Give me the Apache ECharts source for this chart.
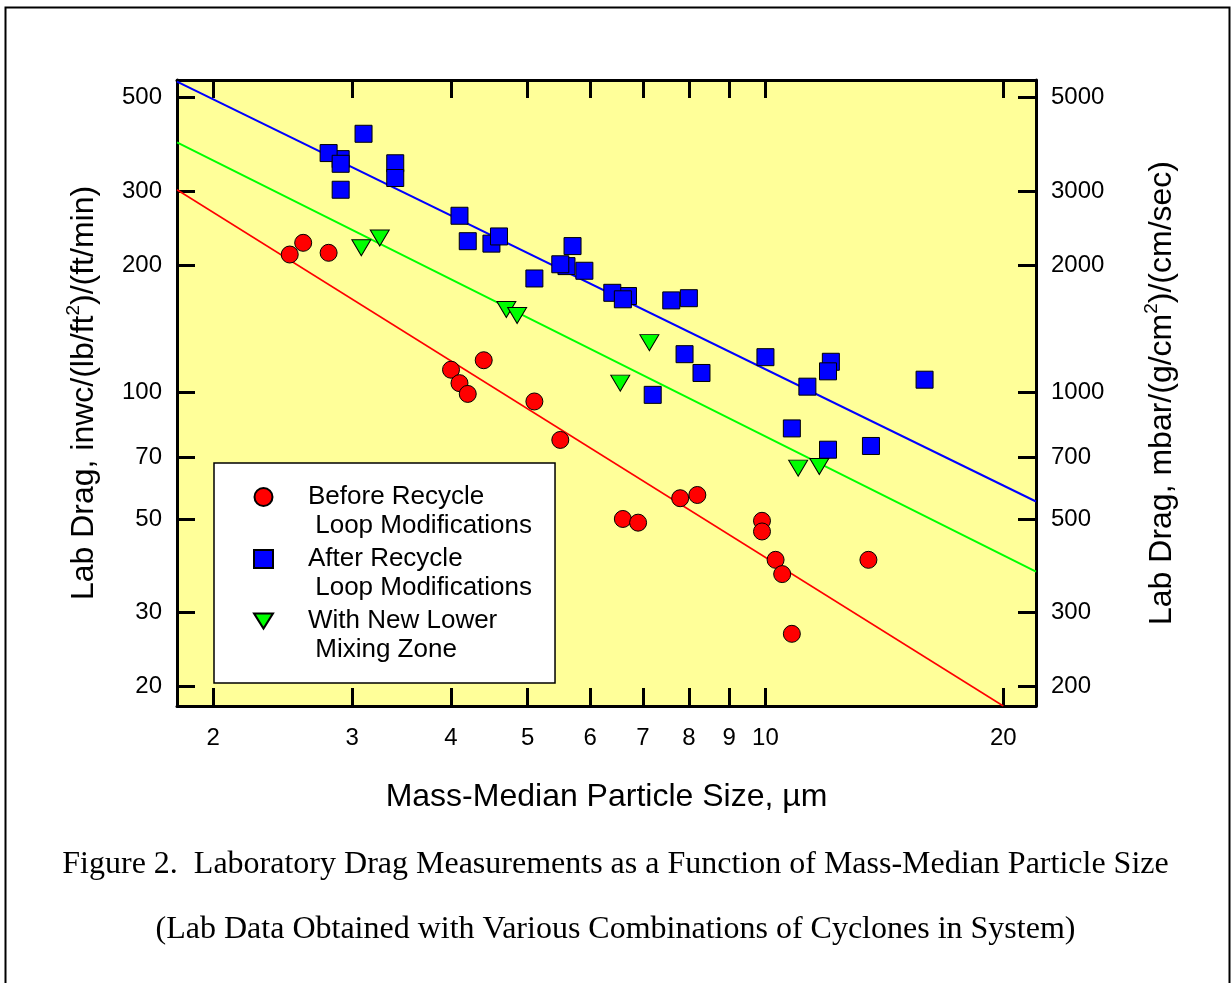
<!DOCTYPE html>
<html>
<head>
<meta charset="utf-8">
<title>Laboratory Drag vs Particle Size</title>
<script src="https://cdn.jsdelivr.net/npm/echarts@6/dist/echarts.min.js"></script>
<style>
    html, body { margin: 0; padding: 0; background: #fff; }
    #chart { width: 1231px; height: 983px; }
</style>
</head>
<body>
<div id="chart"></div>
<script>
// 数据：粒径(µm) / 阻力 inwc/(lb/ft2)/(ft/min)
var beforeRecycle = [
    [2.5, 212], [2.6, 226], [2.8, 214], [4.0, 113], [4.1, 105], [4.2, 99], [4.4, 119],
    [5.1, 95], [5.5, 77], [6.6, 50], [6.9, 49], [7.8, 56], [8.2, 57], [9.9, 49.5],
    [9.9, 46.7], [10.3, 40], [10.5, 37], [10.8, 26.7], [13.5, 40]
];
var afterRecycle = [
    [2.9, 357], [2.8, 369], [2.9, 348], [2.9, 302], [3.1, 410], [3.4, 349], [3.4, 322],
    [4.1, 262], [4.2, 228], [4.5, 225], [4.6, 234], [5.1, 186], [5.6, 199], [5.5, 201],
    [5.7, 222], [5.9, 194], [6.7, 169], [6.4, 172], [6.6, 166], [7.2, 98.5], [7.6, 165],
    [8.0, 167], [7.9, 123], [8.3, 111], [10.0, 121], [10.8, 82], [11.3, 103], [12.1, 118],
    [12.0, 112], [12.0, 73], [13.6, 74.5], [15.9, 107]
];
var lowerZone = [
    [3.08, 220], [3.25, 232], [4.7, 157], [4.85, 152], [6.55, 105], [7.13, 131],
    [11.0, 66], [11.7, 66.6]
];

// 拟合线端点
var beforeFit = [[1.8, 302], [20, 18]];
var afterFit = [[1.8, 545], [22, 55]];
var lowerFit = [[1.8, 391], [22, 37.5]];

// 刻度
var xTicks = [2, 3, 4, 5, 6, 7, 8, 9, 10, 20];
var yTicks = [20, 30, 50, 70, 100, 200, 300, 500];
var yTicksRight = [200, 300, 500, 700, 1000, 2000, 3000, 5000];

var xRange = [1.8, 22];
var yRange = [18, 550];

var names = [
    'Before Recycle\n Loop Modifications',
    'After Recycle\n Loop Modifications',
    'With New Lower\n Mixing Zone'
];

var sans = 'Liberation Sans, Arial, sans-serif';
var black = '#000';

function logAxis(pos, range, ticks, showLabel, extra) {
    var axis = {
        type: 'log',
        logBase: 10,
        position: pos,
        min: range[0],
        max: range[1],
        axisLine: { show: true, onZero: false, lineStyle: { color: black, width: 3 } },
        axisTick: { show: true, inside: true, length: 18, customValues: ticks, lineStyle: { color: black, width: 3 } },
        minorTick: { show: false },
        splitLine: { show: false },
        axisLabel: {
            show: showLabel,
            customValues: ticks,
            color: black,
            fontFamily: sans,
            fontSize: 24,
            margin: pos === 'bottom' ? 20 : 15,
            formatter: function (v) { return String(Math.round(v)); }
        }
    };
    for (var k in extra) axis[k] = extra[k];
    return axis;
}

var chart = echarts.init(document.getElementById('chart'), null, { renderer: 'canvas' });

var nameRich = {
    n: { fontFamily: sans, fontSize: 32, color: black, lineHeight: 36, verticalAlign: 'bottom' },
    s: { fontFamily: sans, fontSize: 19, color: black, lineHeight: 36, verticalAlign: 'top' }
};

var option = {
    animation: false,
    backgroundColor: '#fff',
    title: {
        text: 'Figure 2.  Laboratory Drag Measurements as a Function of Mass-Median Particle Size\n(Lab Data Obtained with Various Combinations of Cyclones in System)',
        left: 'center',
        top: 827,
        textStyle: {
            fontFamily: 'Liberation Serif, Times New Roman, serif',
            fontSize: 32,
            fontWeight: 'normal',
            color: black,
            lineHeight: 65
        }
    },
    graphic: [{
        type: 'rect',
        left: 3,
        top: 5,
        shape: { width: 1224, height: 1000 },
        style: { fill: 'none', stroke: black, lineWidth: 2 },
        silent: true
    }],
    grid: {
        left: 177,
        right: 195,
        top: 80,
        bottom: 277,
        show: true,
        backgroundColor: '#ffff99',
        borderWidth: 0,
        outerBoundsMode: 'none'
    },
    legend: {
        orient: 'vertical',
        left: 214,
        top: 463,
        padding: [-9.5, 23, 18.5, 39],
        itemGap: -25,
        itemWidth: 19,
        itemHeight: 18,
        backgroundColor: '#fff',
        borderColor: black,
        borderWidth: 1.5,
        borderRadius: 0,
        selectedMode: false,
        // 空行让图标对齐第一行文字
        formatter: function (name) { return '\n' + name; },
        textStyle: {
            fontFamily: sans,
            fontSize: 26,
            color: black,
            lineHeight: 29,
            padding: [0, 0, 0, 30]
        },
        data: [
            { name: names[0] },
            { name: names[1] },
            { name: names[2], icon: 'path://M0,0L20,0L10,16Z' }
        ]
    },
    xAxis: [
        logAxis('bottom', xRange, xTicks, true, {
            name: 'Mass-Median Particle Size, µm',
            nameLocation: 'middle',
            nameGap: 75,
            nameTextStyle: { fontFamily: sans, fontSize: 32, color: black }
        }),
        logAxis('top', xRange, xTicks, false, {})
    ],
    yAxis: [
        logAxis('left', yRange, yTicks, true, {
            name: '{n|Lab Drag, inwc/(lb/ft}{s|2}{n|)/(ft/min)}',
            nameLocation: 'middle',
            nameGap: 77,
            nameTextStyle: { rich: nameRich }
        }),
        logAxis('right', [yRange[0] * 10, yRange[1] * 10], yTicksRight, true, {
            name: '{n|Lab Drag, mbar/(g/cm}{s|2}{n|)/(cm/sec)}',
            nameLocation: 'middle',
            nameGap: 106,
            nameTextStyle: { rich: nameRich }
        })
    ],
    series: [
        {
            type: 'line', data: beforeFit, symbol: 'none', clip: true, silent: true,
            lineStyle: { color: '#ff0000', width: 1.5 }, z: 2
        },
        {
            type: 'line', data: afterFit, symbol: 'none', clip: true, silent: true,
            lineStyle: { color: '#0000ff', width: 2 }, z: 2
        },
        {
            type: 'line', data: lowerFit, symbol: 'none', clip: true, silent: true,
            lineStyle: { color: '#00ff00', width: 2 }, z: 2
        },
        {
            name: names[0], type: 'scatter', data: beforeRecycle,
            symbol: 'circle', symbolSize: 17,
            itemStyle: { color: '#ff0000', borderColor: black, borderWidth: 1, opacity: 1 }, z: 3
        },
        {
            name: names[1], type: 'scatter', data: afterRecycle,
            symbol: 'rect', symbolSize: 17,
            itemStyle: { color: '#0000ff', borderColor: black, borderWidth: 1, opacity: 1 }, z: 3
        },
        {
            name: names[2], type: 'scatter', data: lowerZone,
            symbol: 'triangle', symbolRotate: 180, symbolSize: [19, 16],
            itemStyle: { color: '#00ff00', borderColor: black, borderWidth: 1, opacity: 1 }, z: 3
        }
    ]
};

chart.setOption(option);
</script>
</body>
</html>
